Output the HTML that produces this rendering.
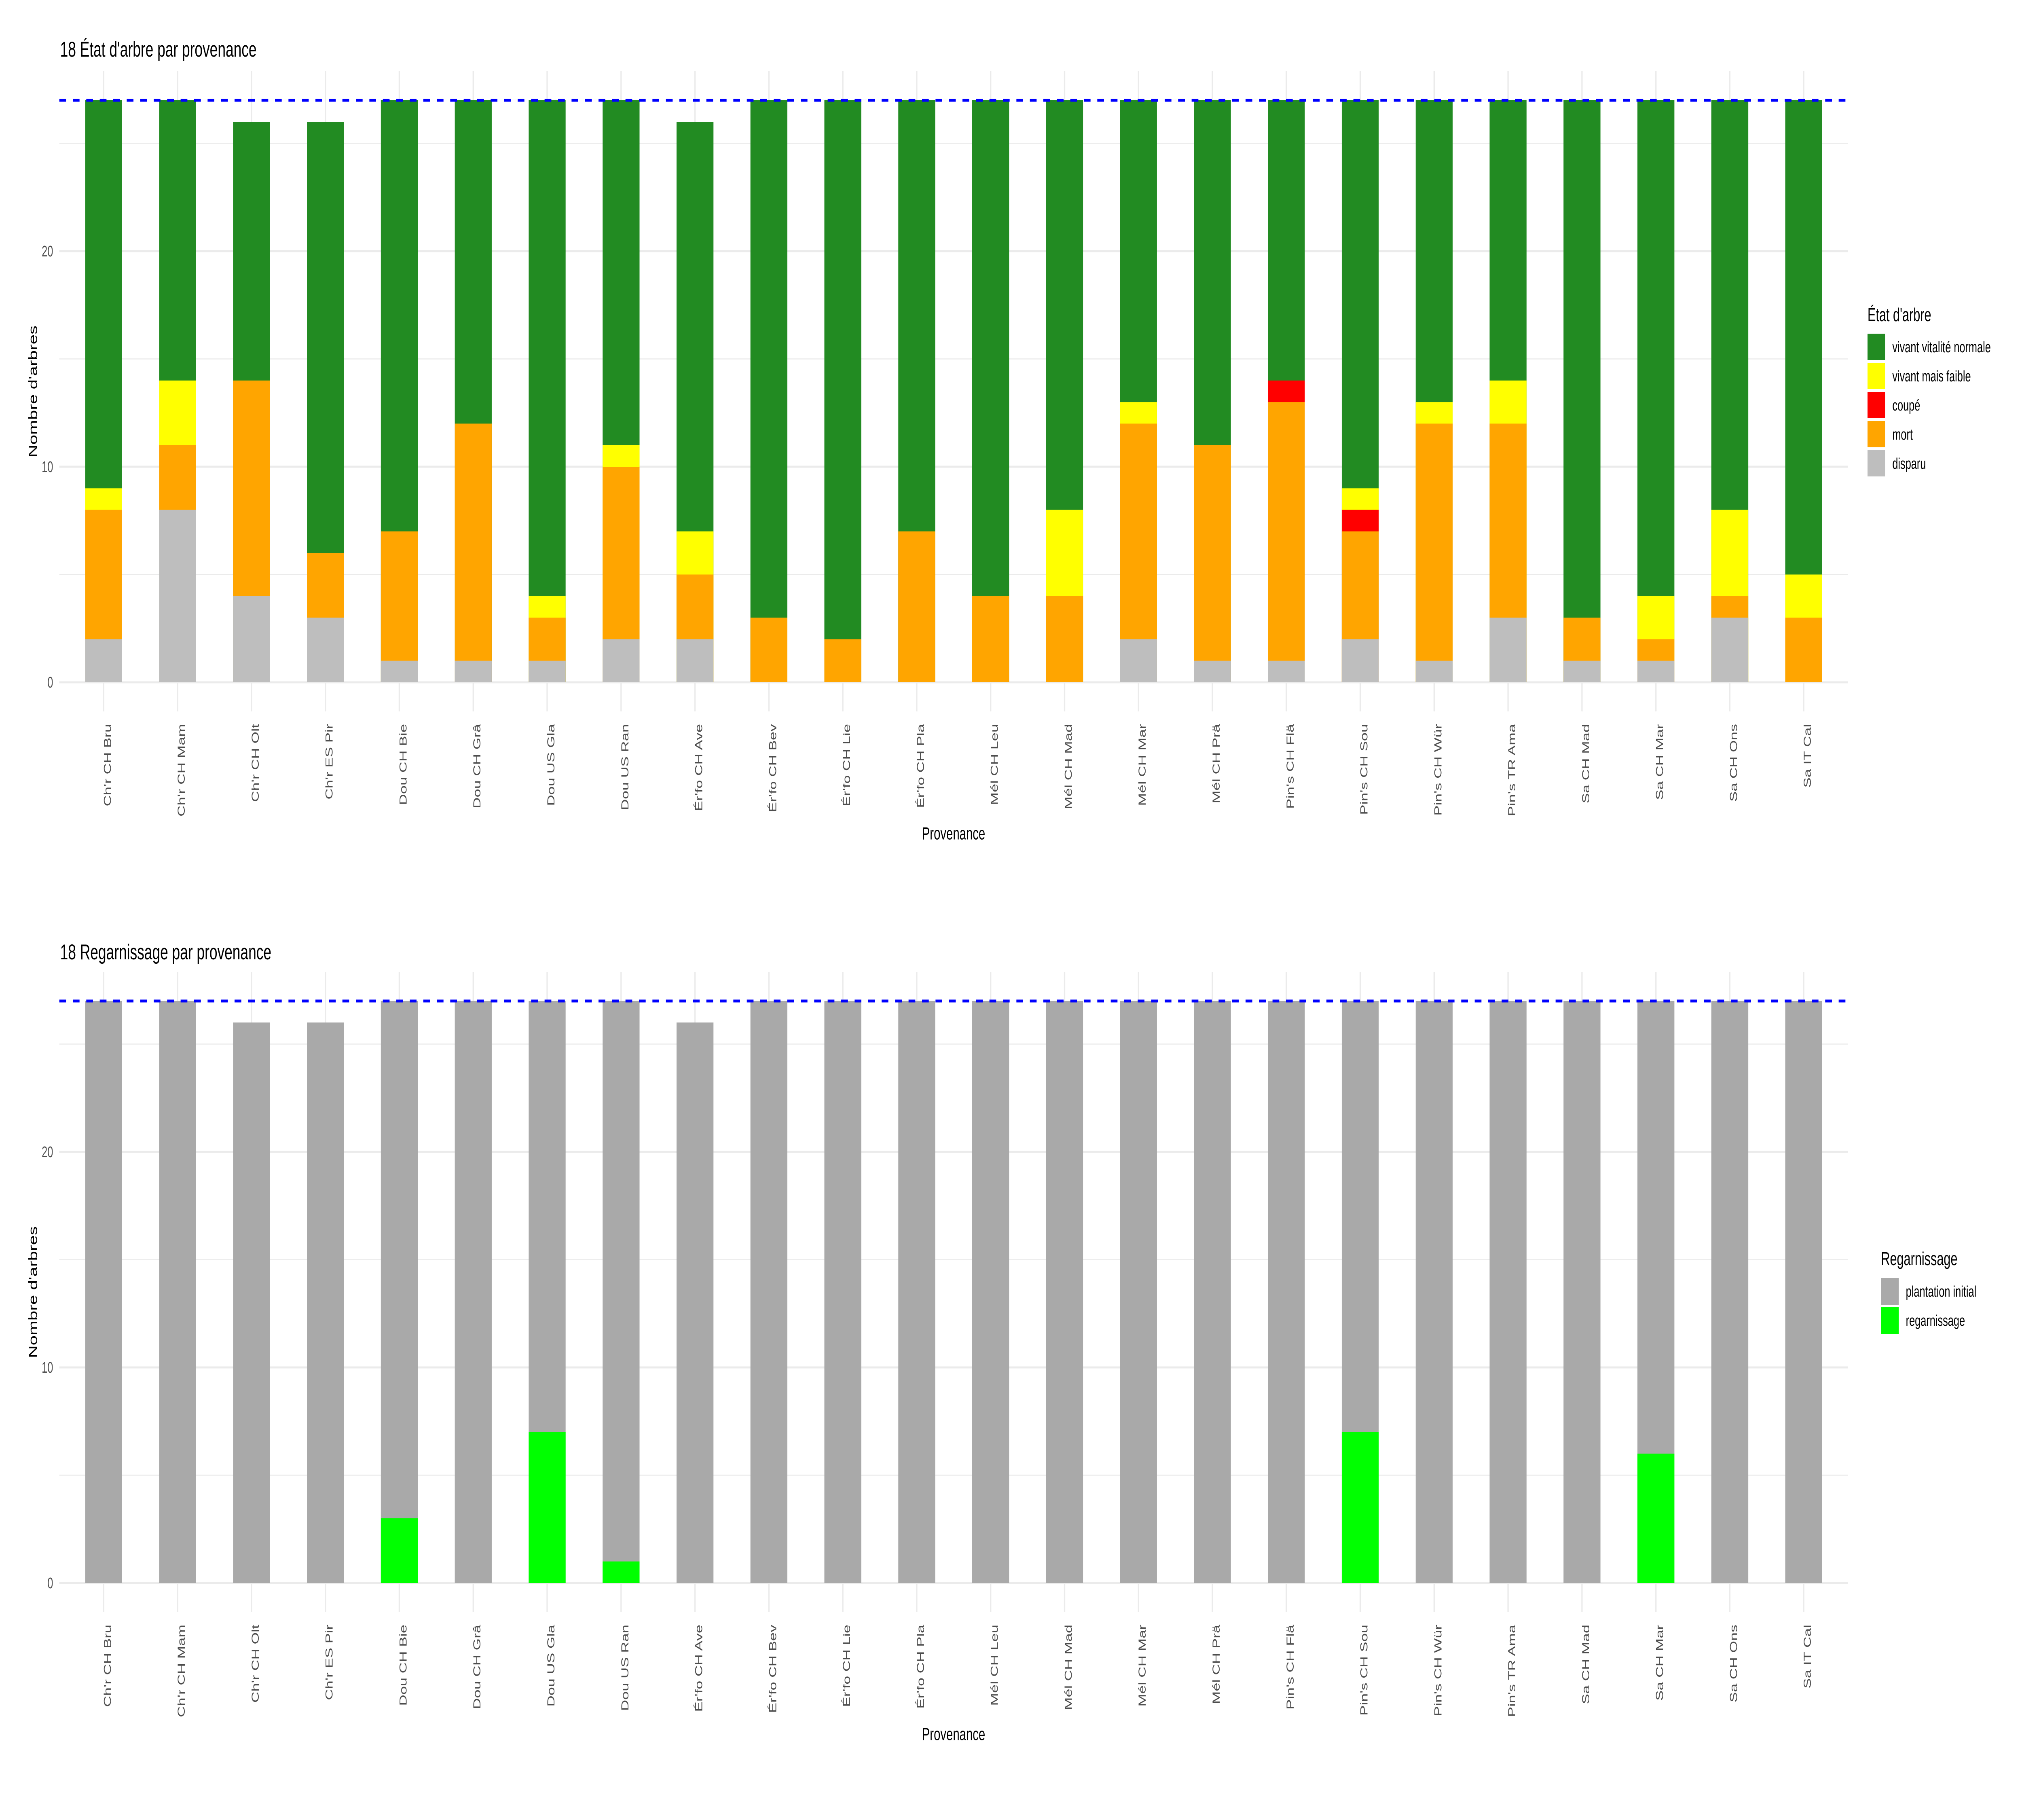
<!DOCTYPE html>
<html><head><meta charset="utf-8"><style>
html,body{margin:0;padding:0;background:#fff;width:100%;height:100%;overflow:hidden}
svg{display:block;width:100vw;height:100vh}
text{font-family:"Liberation Sans",sans-serif}
.g{fill:#228B22}.y{fill:#FFFF00}.r{fill:#FF0000}.o{fill:#FFA500}.d{fill:#BEBEBE}.p{fill:#A9A9A9}.l{fill:#00FF00}
.tk{font-size:38px;fill:#4d4d4d}
.xl{font-size:38px;fill:#4d4d4d}
</style></head><body>
<svg viewBox="0 0 7500 4500" preserveAspectRatio="none" xmlns="http://www.w3.org/2000/svg">
<defs>
<g id="grid">
<path d="M220 1420.5H6855M220 887.5H6855M220 354.5H6855" stroke="#ebebeb" stroke-width="2.5" fill="none"/>
<path d="M220 1687H6855M220 1154H6855M220 621H6855" stroke="#ebebeb" stroke-width="5" fill="none"/>
<path d="M384.5 176V1759M658.7 176V1759M932.8 176V1759M1207 176V1759M1481.2 176V1759M1755.4 176V1759M2029.5 176V1759M2303.7 176V1759M2577.9 176V1759M2852 176V1759M3126.2 176V1759M3400.4 176V1759M3674.5 176V1759M3948.7 176V1759M4222.9 176V1759M4497.1 176V1759M4771.2 176V1759M5045.4 176V1759M5319.6 176V1759M5593.7 176V1759M5867.9 176V1759M6142.1 176V1759M6416.2 176V1759M6690.4 176V1759" stroke="#ebebeb" stroke-width="5" fill="none"/>
</g>
<g id="ticks">
<text class="tk" x="197" y="1687" text-anchor="end" dominant-baseline="central">0</text>
<text class="tk" x="197" y="1154" text-anchor="end" dominant-baseline="central">10</text>
<text class="tk" x="197" y="621" text-anchor="end" dominant-baseline="central">20</text>
<text x="122" y="968" font-size="44" text-anchor="middle" dominant-baseline="central" transform="rotate(-90 122 968)">Nombre d'arbres</text>
<text x="3537" y="2060" font-size="44" text-anchor="middle" dominant-baseline="central">Provenance</text>
<g class="xl" text-anchor="end" dominant-baseline="central">
<text transform="translate(398.5,1790) rotate(-90)">Ch'r CH Bru</text>
<text transform="translate(672.7,1790) rotate(-90)">Ch'r CH Mam</text>
<text transform="translate(946.8,1790) rotate(-90)">Ch'r CH Olt</text>
<text transform="translate(1221,1790) rotate(-90)">Ch'r ES Pir</text>
<text transform="translate(1495.2,1790) rotate(-90)">Dou CH Bie</text>
<text transform="translate(1769.4,1790) rotate(-90)">Dou CH Grâ</text>
<text transform="translate(2043.5,1790) rotate(-90)">Dou US Gla</text>
<text transform="translate(2317.7,1790) rotate(-90)">Dou US Ran</text>
<text transform="translate(2591.9,1790) rotate(-90)">Ér'fo CH Ave</text>
<text transform="translate(2866,1790) rotate(-90)">Ér'fo CH Bev</text>
<text transform="translate(3140.2,1790) rotate(-90)">Ér'fo CH Lie</text>
<text transform="translate(3414.4,1790) rotate(-90)">Ér'fo CH Pla</text>
<text transform="translate(3688.5,1790) rotate(-90)">Mél CH Leu</text>
<text transform="translate(3962.7,1790) rotate(-90)">Mél CH Mad</text>
<text transform="translate(4236.9,1790) rotate(-90)">Mél CH Mar</text>
<text transform="translate(4511.1,1790) rotate(-90)">Mél CH Prä</text>
<text transform="translate(4785.2,1790) rotate(-90)">Pin's CH Flä</text>
<text transform="translate(5059.4,1790) rotate(-90)">Pin's CH Sou</text>
<text transform="translate(5333.6,1790) rotate(-90)">Pin's CH Wür</text>
<text transform="translate(5607.7,1790) rotate(-90)">Pin's TR Ama</text>
<text transform="translate(5881.9,1790) rotate(-90)">Sa CH Mad</text>
<text transform="translate(6156.1,1790) rotate(-90)">Sa CH Mar</text>
<text transform="translate(6430.2,1790) rotate(-90)">Sa CH Ons</text>
<text transform="translate(6704.4,1790) rotate(-90)">Sa IT Cal</text>
</g>
</g>
</defs>

<use href="#grid"/>
<use href="#ticks"/>
<text x="223" y="140" font-size="53">18 État d'arbre par provenance</text>
<g transform="translate(0,1687) scale(1,-53.3)">
<g class="g">
<rect x="316" y="0" width="137" height="27"/><rect x="590.2" y="0" width="137" height="27"/><rect x="864.3" y="0" width="137" height="26"/><rect x="1138.5" y="0" width="137" height="26"/>
<rect x="1412.7" y="0" width="137" height="27"/><rect x="1686.9" y="0" width="137" height="27"/><rect x="1961" y="0" width="137" height="27"/><rect x="2235.2" y="0" width="137" height="27"/>
<rect x="2509.4" y="0" width="137" height="26"/><rect x="2783.5" y="0" width="137" height="27"/><rect x="3057.7" y="0" width="137" height="27"/><rect x="3331.9" y="0" width="137" height="27"/>
<rect x="3606" y="0" width="137" height="27"/><rect x="3880.2" y="0" width="137" height="27"/><rect x="4154.4" y="0" width="137" height="27"/><rect x="4428.6" y="0" width="137" height="27"/>
<rect x="4702.7" y="0" width="137" height="27"/><rect x="4976.9" y="0" width="137" height="27"/><rect x="5251.1" y="0" width="137" height="27"/><rect x="5525.2" y="0" width="137" height="27"/>
<rect x="5799.4" y="0" width="137" height="27"/><rect x="6073.6" y="0" width="137" height="27"/><rect x="6347.7" y="0" width="137" height="27"/><rect x="6621.9" y="0" width="137" height="27"/>
</g>
<g class="y">
<rect x="316" y="0" width="137" height="9"/><rect x="590.2" y="0" width="137" height="14"/><rect x="1961" y="0" width="137" height="4"/><rect x="2235.2" y="0" width="137" height="11"/>
<rect x="2509.4" y="0" width="137" height="7"/><rect x="3880.2" y="0" width="137" height="8"/><rect x="4154.4" y="0" width="137" height="13"/><rect x="4976.9" y="0" width="137" height="9"/>
<rect x="5251.1" y="0" width="137" height="13"/><rect x="5525.2" y="0" width="137" height="14"/><rect x="6073.6" y="0" width="137" height="4"/><rect x="6347.7" y="0" width="137" height="8"/><rect x="6621.9" y="0" width="137" height="5"/>
</g>
<g class="r">
<rect x="4702.7" y="0" width="137" height="14"/><rect x="4976.9" y="0" width="137" height="8"/>
</g>
<g class="o">
<rect x="316" y="0" width="137" height="8"/><rect x="590.2" y="0" width="137" height="11"/><rect x="864.3" y="0" width="137" height="14"/><rect x="1138.5" y="0" width="137" height="6"/>
<rect x="1412.7" y="0" width="137" height="7"/><rect x="1686.9" y="0" width="137" height="12"/><rect x="1961" y="0" width="137" height="3"/><rect x="2235.2" y="0" width="137" height="10"/>
<rect x="2509.4" y="0" width="137" height="5"/><rect x="2783.5" y="0" width="137" height="3"/><rect x="3057.7" y="0" width="137" height="2"/><rect x="3331.9" y="0" width="137" height="7"/>
<rect x="3606" y="0" width="137" height="4"/><rect x="3880.2" y="0" width="137" height="4"/><rect x="4154.4" y="0" width="137" height="12"/><rect x="4428.6" y="0" width="137" height="11"/>
<rect x="4702.7" y="0" width="137" height="13"/><rect x="4976.9" y="0" width="137" height="7"/><rect x="5251.1" y="0" width="137" height="12"/><rect x="5525.2" y="0" width="137" height="12"/>
<rect x="5799.4" y="0" width="137" height="3"/><rect x="6073.6" y="0" width="137" height="2"/><rect x="6347.7" y="0" width="137" height="4"/><rect x="6621.9" y="0" width="137" height="3"/>
</g>
<g class="d">
<rect x="316" y="0" width="137" height="2"/><rect x="590.2" y="0" width="137" height="8"/><rect x="864.3" y="0" width="137" height="4"/><rect x="1138.5" y="0" width="137" height="3"/>
<rect x="1412.7" y="0" width="137" height="1"/><rect x="1686.9" y="0" width="137" height="1"/><rect x="1961" y="0" width="137" height="1"/><rect x="2235.2" y="0" width="137" height="2"/>
<rect x="2509.4" y="0" width="137" height="2"/><rect x="4154.4" y="0" width="137" height="2"/><rect x="4428.6" y="0" width="137" height="1"/>
<rect x="4702.7" y="0" width="137" height="1"/><rect x="4976.9" y="0" width="137" height="2"/><rect x="5251.1" y="0" width="137" height="1"/><rect x="5525.2" y="0" width="137" height="3"/>
<rect x="5799.4" y="0" width="137" height="1"/><rect x="6073.6" y="0" width="137" height="1"/><rect x="6347.7" y="0" width="137" height="3"/>
</g>
</g>
<path d="M220 248H6855" stroke="#0000FF" stroke-width="7" stroke-dasharray="25 25" fill="none"/>

<text x="6927" y="794" font-size="46">État d'arbre</text>
<rect class="g" x="6927" y="825" width="65" height="65"/>
<rect class="y" x="6927" y="897" width="65" height="65"/>
<rect class="r" x="6927" y="969" width="65" height="65"/>
<rect class="o" x="6927" y="1041" width="65" height="65"/>
<rect class="d" x="6927" y="1113" width="65" height="65"/>
<g font-size="38">
<text x="7019" y="871">vivant vitalité normale</text>
<text x="7019" y="943">vivant mais faible</text>
<text x="7019" y="1015">coupé</text>
<text x="7019" y="1087">mort</text>
<text x="7019" y="1159">disparu</text>
</g>

<g transform="translate(0,2227)">
<use href="#grid"/>
<use href="#ticks"/>
</g>
<text x="223" y="2372" font-size="53">18 Regarnissage par provenance</text>
<g transform="translate(0,3914) scale(1,-53.3)">
<g class="p">
<rect x="316" y="0" width="137" height="27"/><rect x="590.2" y="0" width="137" height="27"/><rect x="864.3" y="0" width="137" height="26"/><rect x="1138.5" y="0" width="137" height="26"/>
<rect x="1412.7" y="0" width="137" height="27"/><rect x="1686.9" y="0" width="137" height="27"/><rect x="1961" y="0" width="137" height="27"/><rect x="2235.2" y="0" width="137" height="27"/>
<rect x="2509.4" y="0" width="137" height="26"/><rect x="2783.5" y="0" width="137" height="27"/><rect x="3057.7" y="0" width="137" height="27"/><rect x="3331.9" y="0" width="137" height="27"/>
<rect x="3606" y="0" width="137" height="27"/><rect x="3880.2" y="0" width="137" height="27"/><rect x="4154.4" y="0" width="137" height="27"/><rect x="4428.6" y="0" width="137" height="27"/>
<rect x="4702.7" y="0" width="137" height="27"/><rect x="4976.9" y="0" width="137" height="27"/><rect x="5251.1" y="0" width="137" height="27"/><rect x="5525.2" y="0" width="137" height="27"/>
<rect x="5799.4" y="0" width="137" height="27"/><rect x="6073.6" y="0" width="137" height="27"/><rect x="6347.7" y="0" width="137" height="27"/><rect x="6621.9" y="0" width="137" height="27"/>
</g>
<g class="l">
<rect x="1412.7" y="0" width="137" height="3"/><rect x="1961" y="0" width="137" height="7"/><rect x="2235.2" y="0" width="137" height="1"/><rect x="4976.9" y="0" width="137" height="7"/><rect x="6073.6" y="0" width="137" height="6"/>
</g>
</g>
<path d="M220 2475H6855" stroke="#0000FF" stroke-width="7" stroke-dasharray="25 25" fill="none"/>

<text x="6977" y="3128" font-size="46">Regarnissage</text>
<rect class="p" x="6977" y="3160" width="66" height="66"/>
<rect class="l" x="6977" y="3232" width="66" height="66"/>
<g font-size="38">
<text x="7069" y="3206">plantation initial</text>
<text x="7069" y="3278">regarnissage</text>
</g>
</svg>
</body></html>
